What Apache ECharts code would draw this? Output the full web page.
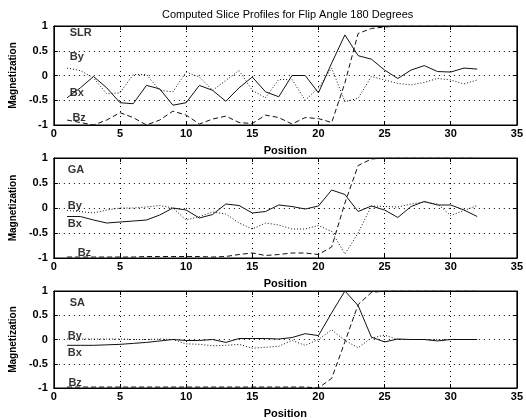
<!DOCTYPE html>
<html><head><meta charset="utf-8">
<script src="https://cdn.jsdelivr.net/npm/echarts@6/dist/echarts.min.js"></script>
<style>html,body{margin:0;padding:0;background:#fff}#c{width:526px;height:420px}</style>
</head><body><div id="c"></div>
<script>
const positions = [1,2,3,4,5,6,7,8,9,10,11,12,13,14,15,16,17,18,19,20,21,22,23,24,25,26,27,28,29,30,31,32];
const xTicks = [0,5,10,15,20,25,30,35];
const yTicks = [-1,-0.5,0,0.5,1];
const titleText = 'Computed Slice Profiles for Flip Angle 180 Degrees';

const slrBx = [-0.45,-0.25,-0.02,-0.25,-0.55,-0.57,-0.2,-0.27,-0.6,-0.55,-0.2,-0.3,-0.52,-0.25,-0.03,-0.33,-0.43,0,0,-0.35,0.25,0.82,0.4,0.33,0.11,-0.06,0.11,0.2,0.08,0.07,0.15,0.13];
const slrBy = [0.15,0.1,-0.05,-0.37,-0.35,0.02,0.02,-0.3,-0.33,0.07,-0.03,-0.3,-0.1,0.1,-0.3,-0.45,-0.08,-0.08,-0.5,-0.25,0.15,-0.53,-0.46,-0.02,-0.09,-0.16,-0.19,-0.14,-0.06,-0.09,-0.17,-0.09];
const slrBz = [-0.9,-0.95,-1,-0.9,-0.75,-0.85,-1,-0.9,-0.72,-0.8,-0.98,-0.88,-0.82,-0.95,-0.97,-0.8,-0.85,-0.98,-0.85,-0.87,-0.95,-0.15,0.85,0.95,0.98,1,1,1,1,1,1,1];

const gaBx = [-0.17,-0.17,-0.24,-0.3,-0.28,-0.26,-0.24,-0.14,0,-0.04,-0.2,-0.13,0.08,0.05,-0.1,-0.07,0.06,0.03,-0.02,0.04,0.36,0.27,-0.07,0.04,-0.04,-0.19,0.03,0.13,0.06,0.06,-0.04,-0.17];
const gaBy = [-0.05,-0.07,-0.1,-0.04,0,0,0.02,0.05,0,-0.24,-0.17,-0.08,-0.12,-0.3,-0.42,-0.3,-0.34,-0.42,-0.42,-0.35,-0.47,-0.92,-0.5,0.04,0.03,0.02,0.08,0.12,0.08,-0.15,-0.05,0.05];
const gaBz = [-0.98,-0.98,-0.98,-0.98,-0.98,-0.98,-0.97,-0.97,-0.97,-0.97,-0.97,-0.98,-0.97,-0.93,-0.9,-0.95,-0.93,-0.9,-0.9,-0.93,-0.78,0.1,0.85,0.98,1,1,1,1,1,1,1,1];

const saBx = [-0.12,-0.12,-0.12,-0.11,-0.1,-0.08,-0.06,-0.03,0,-0.02,-0.02,0,-0.06,0.02,0.02,0.02,0.01,0.04,0.12,0.08,0.55,1.0,0.7,0.05,-0.05,0.01,0,0,-0.03,0,0,0];
const saBy = [0.01,0.01,0.01,0.01,0.01,0,0,0.01,0,-0.09,-0.1,-0.13,-0.12,-0.1,-0.18,-0.16,-0.14,-0.02,-0.12,0,0.2,-0.02,-0.17,0.03,0.09,0,0,0,0,0,0,0];
const saBz = [-0.98,-0.98,-0.98,-0.98,-0.98,-0.98,-0.98,-0.98,-0.98,-0.98,-0.98,-0.98,-0.98,-0.98,-0.98,-0.98,-0.98,-0.98,-0.98,-1,-0.8,-0.05,0.72,0.97,1,1,1,1,1,1,1,1];

const panelNames = ['SLR','GA','SA'];
const noteX = [1.2, 1.05, 1.2];
const noteNameY = [0.86, 0.76, 0.76];
const byNote = [[1.2,0.37],[1.05,0.04],[1.05,0.07]];
const bxNote = [[1.2,-0.35],[1.05,-0.32],[1.05,-0.27]];
const bzNote = [[1.4,-0.86],[1.8,-0.9],[1.1,-0.9]];

const panels = [[slrBx,slrBy,slrBz],[gaBx,gaBy,gaBz],[saBx,saBy,saBz]];
const gridTops = [26,158,291];
const gridH = [99,100,99];

const FONT = 'Liberation Sans, Arial, sans-serif';
const grids=[], xAxes=[], yAxes=[], series=[];
panels.forEach((p,i)=>{
  grids.push({left:49,right:7,top:gridTops[i],height:gridH[i],show:true,borderColor:'#000',borderWidth:1,backgroundColor:'#fff'});
  xAxes.push({gridIndex:i,type:'value',min:xTicks[0],max:xTicks[xTicks.length-1],interval:5,
    name:'Position',nameLocation:'middle',nameGap:20,
    nameTextStyle:{color:'#000',fontFamily:FONT,fontSize:11,fontWeight:'bold'},
    axisLine:{show:true,onZero:false,lineStyle:{color:'#000'}},
    axisTick:{show:true,inside:true,length:4,lineStyle:{color:'#000'}},
    axisLabel:{color:'#000',fontFamily:FONT,fontSize:11,fontWeight:'bold',margin:3},
    splitLine:{show:true,lineStyle:{color:'#000',type:[1,4],width:1}}});
  xAxes.push({gridIndex:i,type:'value',position:'top',min:0,max:35,interval:5,
    axisLine:{show:true,onZero:false,lineStyle:{color:'#000'}},
    axisTick:{show:true,inside:true,length:4,lineStyle:{color:'#000'}},
    axisLabel:{show:false},splitLine:{show:false}});
  yAxes.push({gridIndex:i,type:'value',min:yTicks[0],max:yTicks[yTicks.length-1],interval:0.5,
    name:'Magnetization',nameLocation:'middle',nameGap:27,nameRotate:90,
    nameTextStyle:{color:'#000',fontFamily:FONT,fontSize:10,fontWeight:'bold'},
    axisLine:{show:true,onZero:false,lineStyle:{color:'#000'}},
    axisTick:{show:true,inside:true,length:4,lineStyle:{color:'#000'}},
    axisLabel:{color:'#000',fontFamily:FONT,fontSize:11,fontWeight:'bold',margin:6},
    splitLine:{show:true,lineStyle:{color:'#000',type:[1,4],width:1}}});
  yAxes.push({gridIndex:i,type:'value',position:'right',min:-1,max:1,interval:0.5,
    axisLine:{show:true,onZero:false,lineStyle:{color:'#000'}},
    axisTick:{show:true,inside:true,length:4,lineStyle:{color:'#000'}},
    axisLabel:{show:false},splitLine:{show:false}});
  const styles = [{type:'solid'},{type:[1,2]},{type:[5,3]}];
  p.forEach((arr,k)=>{
    series.push({type:'line',xAxisIndex:2*i,yAxisIndex:2*i,symbol:'none',silent:true,
      data:positions.map((x,j)=>[x,arr[j]]),
      lineStyle:{color:'#111',width:1,type:styles[k].type}});
  });
  const notes = [[noteX[i],noteNameY[i],panelNames[i]],[byNote[i][0],byNote[i][1],'By'],[bxNote[i][0],bxNote[i][1],'Bx'],[bzNote[i][0],bzNote[i][1],'Bz']];
  series.push({type:'scatter',xAxisIndex:2*i,yAxisIndex:2*i,symbolSize:0,silent:true,
    data:notes,
    label:{show:true,position:'right',distance:0,formatter:(d)=>d.value[2],color:'#000',fontFamily:FONT,fontSize:11,fontWeight:'bold'}});
});

const chart = echarts.init(document.getElementById('c'),null,{renderer:'canvas'});
chart.setOption({
  animation:false,
  backgroundColor:'#fff',
  title:{text:titleText,left:157,top:4,textStyle:{color:'#000',fontFamily:FONT,fontSize:11,fontWeight:'normal'}},
  grid:grids,xAxis:xAxes,yAxis:yAxes,series:series
});
</script></body></html>
